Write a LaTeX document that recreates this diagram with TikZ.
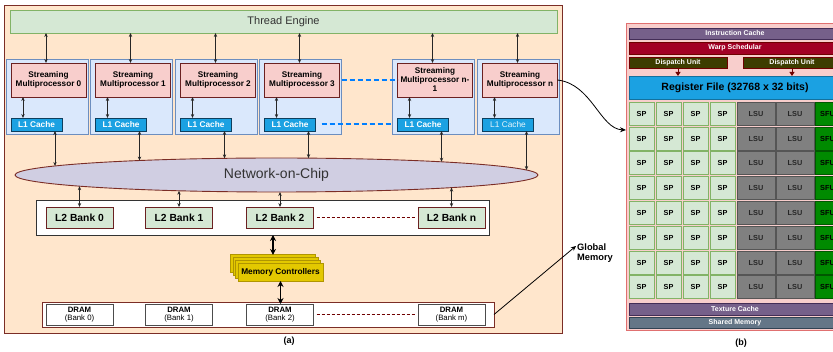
\documentclass[tikz,border=0pt]{standalone}
\usepackage{fontspec}
\setmainfont{Liberation Sans}
\usetikzlibrary{arrows.meta,shapes.geometric}
\definecolor{peach}{HTML}{FFE6CC}
\definecolor{maroon}{HTML}{7B2D26}
\definecolor{tefill}{HTML}{D5E8D4}
\definecolor{tedraw}{HTML}{82B366}
\definecolor{smgfill}{HTML}{DAE8FC}
\definecolor{smgdraw}{HTML}{6C8EBF}
\definecolor{smfill}{HTML}{F8CECC}
\definecolor{smdraw}{HTML}{6B2121}
\definecolor{lonefill}{HTML}{1BA1E2}
\definecolor{lonedraw}{HTML}{0E3F5E}
\definecolor{nocfill}{HTML}{D0CEE2}
\definecolor{mcfill}{HTML}{E3C800}
\definecolor{mcdraw}{HTML}{B09500}
\definecolor{dashblue}{HTML}{007FFF}
\definecolor{darkred}{HTML}{6F0000}
\definecolor{pbfill}{HTML}{F8CECC}
\definecolor{pbdraw}{HTML}{E07070}
\definecolor{purp}{HTML}{76608A}
\definecolor{purpdraw}{HTML}{432D57}
\definecolor{warp}{HTML}{A20025}
\definecolor{olive}{HTML}{3D3D00}
\definecolor{lsufill}{HTML}{808080}
\definecolor{lsudraw}{HTML}{555555}
\definecolor{sfufill}{HTML}{008A00}
\definecolor{sfudraw}{HTML}{005700}
\definecolor{shfill}{HTML}{647687}
\definecolor{shdraw}{HTML}{314354}
\begin{document}
\begin{tikzpicture}[x=1pt,y=-1pt,
  box/.style={draw, line width=0.9pt, inner sep=0pt, outer sep=0pt, align=center},
  panela/.style={box, fill=peach, draw=maroon, minimum width=558, minimum height=328},
  tebox/.style={box, fill=tefill, draw=tedraw, minimum width=547, minimum height=23,
    font=\fontsize{11}{12}\selectfont, text=black!80},
  smgroup/.style={box, fill=smgfill, draw=smgdraw, minimum width=82, minimum height=75},
  smbox/.style={box, fill=smfill, draw=smdraw, minimum width=75, minimum height=34,
    font=\fontsize{8.2}{9}\selectfont\bfseries},
  lone/.style={box, fill=lonefill, draw=lonedraw, minimum width=51, minimum height=13,
    text=white, font=\fontsize{8.3}{9}\selectfont\bfseries},
  nocbox/.style={ellipse, draw=maroon, line width=0.9pt, fill=nocfill, inner sep=0pt,
    minimum width=523, minimum height=34, font=\fontsize{14}{15}\selectfont, text=black!80},
  cont/.style={box, fill=white, draw=black!80},
  ltwo/.style={box, fill=tefill, draw=smdraw, minimum width=67, minimum height=21,
    font=\fontsize{10.3}{11}\selectfont\bfseries},
  dram/.style={box, fill=white, draw=black!70, minimum width=67, minimum height=21,
    font=\fontsize{7.8}{9}\selectfont\bfseries},
  mcbox/.style={box, fill=mcfill, draw=mcdraw, minimum width=85, minimum height=18,
    font=\fontsize{8.3}{9}\selectfont\bfseries},
  biarr/.style={{Stealth[length=4pt,width=3.4pt]}-{Stealth[length=4pt,width=3.4pt]},
    line width=0.8pt, draw=black!85},
  tarr/.style={{Stealth[length=6pt,width=6pt]}-{Stealth[length=6pt,width=6pt]},
    line width=1.8pt},
  bluedash/.style={draw=dashblue, line width=2pt, dash pattern=on 5pt off 3pt},
  reddash/.style={draw=darkred, line width=1pt, dash pattern=on 3pt off 2pt},
  lbl/.style={font=\fontsize{9}{10}\selectfont\bfseries, inner sep=0pt},
  bar/.style={box, minimum width=212, text=white, font=\fontsize{7}{8}\selectfont\bfseries},
  spbox/.style={box, fill=tefill, draw=tedraw, minimum width=25, minimum height=23,
    font=\fontsize{7.3}{8}\selectfont\bfseries},
  lsubox/.style={box, fill=lsufill, draw=lsudraw, minimum width=38, minimum height=23,
    font=\fontsize{7.3}{8}\selectfont\bfseries, text=black!85},
  sfubox/.style={box, fill=sfufill, draw=sfudraw, minimum width=25, minimum height=23,
    font=\fontsize{7.3}{8}\selectfont\bfseries},
]
\useasboundingbox (0,0) rectangle (833,352);
\clip (0,0) rectangle (833,352);

% ---------------- panel (a) ----------------
\node[panela] (pa) at (283,169) {};
\node[tebox] (te) at (283.5,21.5) {Thread Engine};

\foreach \x/\i in {47/0,131.5/1,216.5/2,300.5/3,433.5/4,518.5/5}{
  \node[smgroup] (g\i) at (\x,96.5) {};
}
\foreach \x/\i/\t in {47/0/0,131.5/1/1,216.5/2/2,300.5/3/3}{
  \node[smbox] (s\i) at (\x+1.5,80) {Streaming\\Multiprocessor \t};
}
\node[smbox] (s4) at (435,80) {Streaming\\Multiprocessor n-\\1};
\node[smbox] (s5) at (520,80) {Streaming\\Multiprocessor n};
\foreach \x/\i in {47/0,131.5/1,216.5/2,300.5/3,433.5/4}{
  \node[lone] (c\i) at (\x-10.5,124.5) {L1 Cache};
}
\node[lone, font=\fontsize{8.3}{9}\selectfont, text=white!90!lonefill] (c5) at (508,124.5) {L1 Cache};

\node[nocbox] (noc) at (276.5,175) {Network-on-Chip};

\foreach \i in {0,...,5}{
  \coordinate (ta\i) at ([xshift=-2.5pt]s\i.north);
  \draw[biarr] (te.south -| ta\i) -- (ta\i);
  \coordinate (tb\i) at ([xshift=-13.5pt]c\i.north);
  \draw[biarr] (tb\i) -- (tb\i |- s\i.south);
}
\foreach \x/\i in {55/0,139.5/1,224.5/2,308.5/3,441.5/4,526.5/5}{
  \pgfmathsetmacro\ny{175-17*sqrt(1-((\x-276.5)/261.5)^2)}
  \coordinate (nt\i) at (\x,\ny);
  \draw[biarr] (c\i.south -| nt\i) -- (nt\i);
}
\draw[bluedash] (g3.east |- s3) -- (s4.west);
\coordinate (bd3) at ([xshift=6pt]c3.east);
\draw[bluedash] (bd3) -- (g4.west |- c3);

% L2
\node[cont, minimum width=453, minimum height=35] (l2c) at (262.5,217.5) {};
\node[ltwo] (b0) at (79.5,217.5) {L2 Bank 0};
\node[ltwo] (b1) at (179,217.5) {L2 Bank 1};
\node[ltwo] (b2) at (280,217.5) {L2 Bank 2};
\node[ltwo] (bn) at (451.5,217.5) {L2 Bank n};
\draw[reddash] ([xshift=3pt]b2.east) -- ([xshift=-3pt]bn.west);
\foreach \x/\i in {79.5/0,179/1,280/2,451.5/n}{
  \pgfmathsetmacro\ny{175+17*sqrt(1-((\x-276.5)/261.5)^2)}
  \coordinate (nb\i) at (\x,\ny);
  \draw[biarr] (nb\i) -- (b\i.north);
}

% memory controllers
\node[mcbox] (mc3) at (273,263.9) {};
\node[mcbox] (mc2) at (275.5,266.6) {};
\node[mcbox] (mc1) at (278,269.3) {};
\node[mcbox] (mc0) at (280.5,272) {Memory Controllers};
\draw[tarr] (l2c.south -| mc3.north) -- (mc3.north);

% DRAM
\node[cont, draw=maroon, minimum width=452, minimum height=25] (dc) at (268,314.5) {};
\node[dram] (d0) at (79.5,314.5) {DRAM\\[-1pt]{\mdseries\fontsize{7.8}{9}\selectfont(Bank 0)}};
\node[dram] (d1) at (179,314.5) {DRAM\\[-1pt]{\mdseries\fontsize{7.8}{9}\selectfont(Bank 1)}};
\node[dram] (d2) at (280,314.5) {DRAM\\[-1pt]{\mdseries\fontsize{7.8}{9}\selectfont(Bank 2)}};
\node[dram] (dm) at (451.5,314.5) {DRAM\\[-1pt]{\mdseries\fontsize{7.8}{9}\selectfont(Bank m)}};
\draw[reddash] ([xshift=3pt]d2.east) -- ([xshift=-3pt]dm.west);
\draw[tarr] (mc0.south) -- (mc0.south |- d2.north);

\node[lbl, anchor=west, align=left, font=\fontsize{9.3}{10.5}\selectfont\bfseries] (gm) at (577,253) {Global\\Memory};
\coordinate (gmin) at ([yshift=7pt,xshift=-1pt]gm.west);
\draw[-{Stealth[length=5pt,width=4.5pt]}, line width=0.8pt] (dc.east) -- (gmin);
\node[lbl] (la) at (289,341) {(a)};

% ---------------- panel (b) ----------------
\node[box, fill=pbfill, draw=pbdraw, minimum width=218, minimum height=307] (pb) at (735,176.5) {};
\node[bar, fill=purp, draw=purpdraw, minimum height=11] (ic) at (735,33.5) {Instruction Cache};
\node[bar, fill=warp, draw=darkred, minimum height=12] (ws) at (735,48) {Warp Schedular};
\node[box, fill=olive, draw=darkred, minimum width=98, minimum height=11, text=white,
  font=\fontsize{7}{8}\selectfont\bfseries] (du1) at (678,62.5) {Dispatch Unit};
\node[box, fill=olive, draw=darkred, minimum width=98, minimum height=11, text=white,
  font=\fontsize{7}{8}\selectfont\bfseries] (du2) at (792,62.5) {Dispatch Unit};
\node[bar, fill=lonefill, draw=lonefill!70!black, minimum height=23, text=black,
  font=\fontsize{10.5}{12}\selectfont\bfseries] (rf) at (735,87.5) {Register File (32768 x 32 bits)};
\draw[-{Triangle[length=4pt,width=5pt]}, line width=1pt, draw=darkred] (du1.south) -- (du1.south |- rf.north);
\draw[-{Triangle[length=4pt,width=5pt]}, line width=1pt, draw=darkred] (du2.south) -- (du2.south |- rf.north);

\foreach \r in {0,...,7}{
  \pgfmathsetmacro\ry{113.7+24.8*\r}
  \node[spbox] (sp\r a) at (641.5,\ry) {SP};
  \node[spbox] (sp\r b) at (668.5,\ry) {SP};
  \node[spbox] (sp\r c) at (695.5,\ry) {SP};
  \node[spbox] (sp\r d) at (722.5,\ry) {SP};
  \node[lsubox] (ls\r a) at (756,\ry) {LSU};
  \node[lsubox] (ls\r b) at (795,\ry) {LSU};
  \node[sfubox] (sf\r) at (827.5,\ry) {SFU};
}
\node[bar, fill=purp, draw=purpdraw, minimum height=12] (tc) at (735,309) {Texture Cache};
\node[bar, fill=shfill, draw=shdraw, minimum height=11] (shm) at (735,322.5) {Shared Memory};
\node[lbl] (lb) at (741,343) {(b)};

\coordinate (pbin) at ([yshift=46.5pt]pb.west);
\draw[-{Stealth[length=6pt,width=5pt]}, line width=0.8pt] (s5.east) .. controls (592,84) and (600,129) .. (pbin);
\end{tikzpicture}
\end{document}
